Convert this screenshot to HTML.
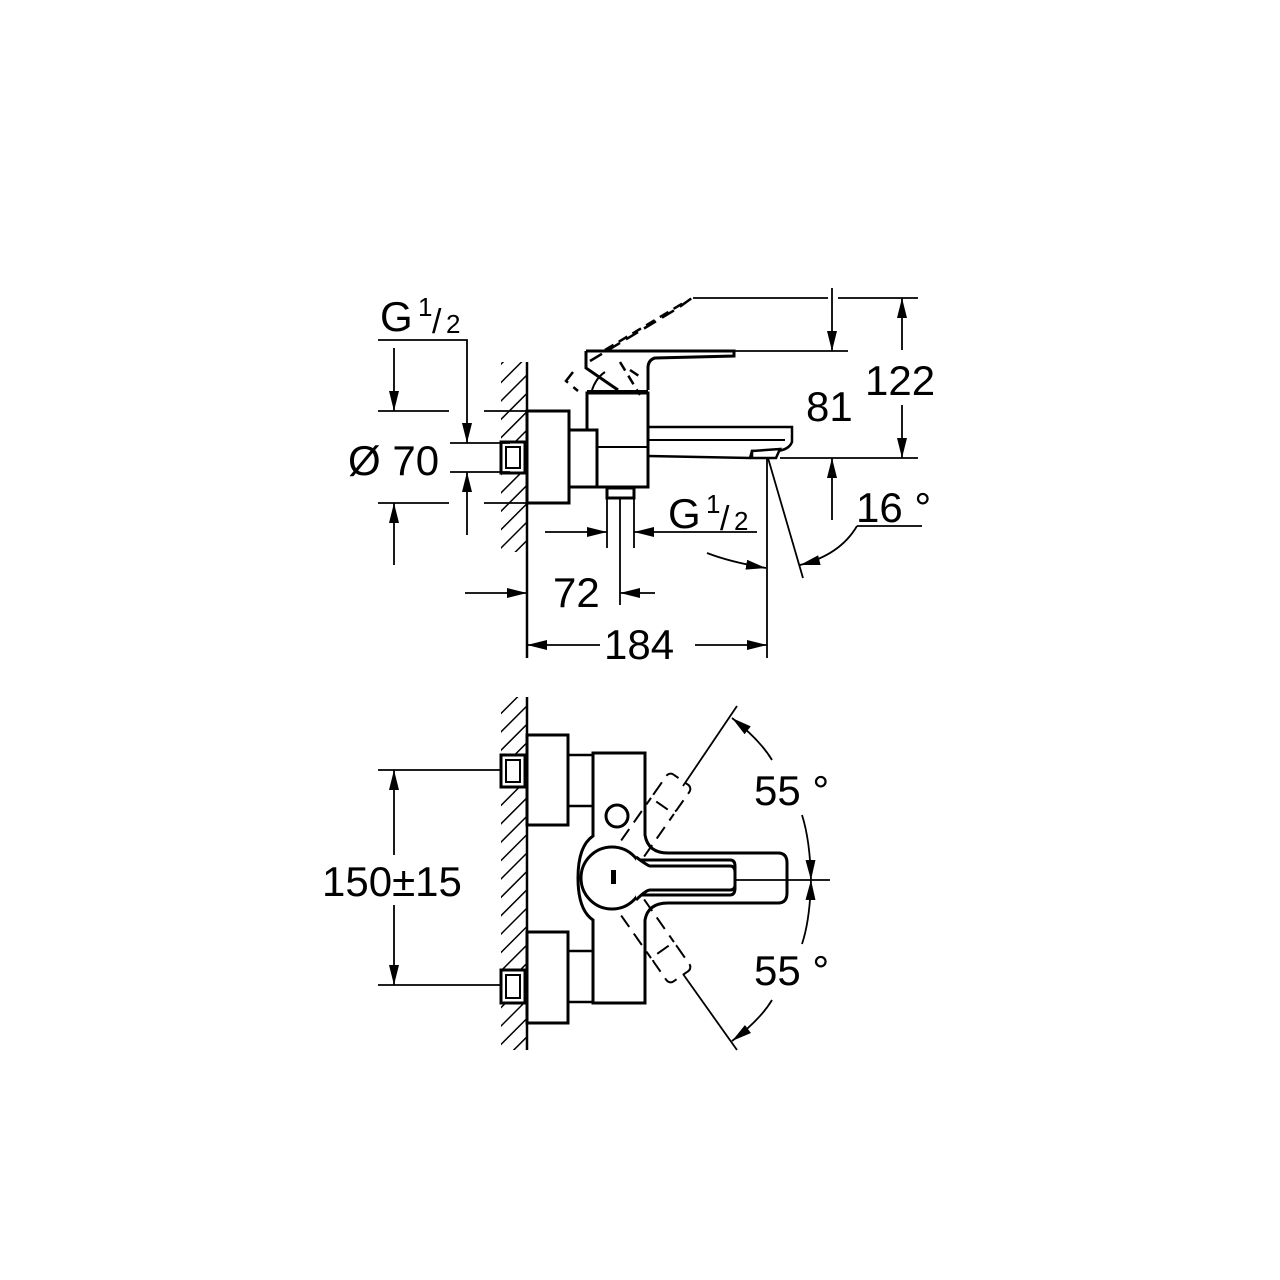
<!DOCTYPE html>
<html><head><meta charset="utf-8"><style>
html,body{margin:0;padding:0;background:#fff;}
svg{display:block}
text{font-family:"Liberation Sans",sans-serif;fill:#000}
</style></head><body>
<svg width="1280" height="1280" viewBox="0 0 1280 1280" xmlns="http://www.w3.org/2000/svg">
<defs>
<pattern id="h" width="13" height="13" patternUnits="userSpaceOnUse" patternTransform="rotate(45)">
<line x1="0" y1="0" x2="0" y2="13" stroke="#000" stroke-width="3"/>
</pattern>
<marker id="a" viewBox="0 0 20 10" refX="20" refY="5" markerWidth="20" markerHeight="10" markerUnits="userSpaceOnUse" orient="auto">
<path d="M0,0 L20,5 L0,10 Z" fill="#000"/>
</marker>
</defs>
<g stroke="#000" fill="none" stroke-width="1.8">
<!-- TOP VIEW -->
<rect x="501" y="362" width="25" height="190" fill="url(#h)" stroke="none"/>
<line x1="527" y1="362" x2="527" y2="658" stroke-width="2.5"/>
<rect x="527" y="411" width="42" height="92" stroke-width="3" fill="#fff"/>
<rect x="501" y="442" width="24" height="31" stroke-width="3" fill="#fff"/>
<rect x="506" y="447" width="14" height="21" stroke-width="2"/>
<rect x="587" y="393" width="61" height="94" stroke-width="3" fill="#fff"/>
<rect x="569" y="430" width="28" height="57" stroke-width="3" fill="#fff"/>
<line x1="597" y1="447" x2="648" y2="447" stroke-width="2"/>
<rect x="587" y="390" width="61" height="4" fill="#000" stroke="none"/>
<rect x="607" y="488" width="27" height="10" stroke-width="3"/>
<line x1="607" y1="498" x2="607" y2="548"/>
<line x1="634" y1="498" x2="634" y2="548"/>
<line x1="620" y1="498" x2="620" y2="605"/>
<!-- lever -->
<path d="M586,351 H734 V356 L655,358 Q648,360 648,368 V390 M586,351 V368 L618,390" stroke-width="3"/>
<path d="M592,390 Q596,378 605,372" stroke-width="2"/>
<!-- spout -->
<path d="M648,427 H792 V442 Q788,452 770,451 L752,451 L750,458 L648,456" stroke-width="2.5"/>
<path d="M648,440 H785" stroke-width="2"/>
<path d="M752,451 L780,449 L776,458 L752,458 Z" stroke-width="2.5" fill="#fff"/>
<!-- dashed raised lever -->
<path d="M573,372 L566,381 L578,391 M590,361 L678,308 L692,298" stroke-dasharray="14,7" stroke-width="2.5"/>
<path d="M605,350 L685,302 M620,362 L640,395 M630,370 L642,378" stroke-dasharray="10,6" stroke-width="2.5"/>
<!-- dimension lines top -->
<line x1="693" y1="298" x2="828" y2="298"/>
<line x1="838" y1="298" x2="918" y2="298"/>
<line x1="734" y1="351" x2="848" y2="351"/>
<line x1="780" y1="458" x2="918" y2="458"/>
<line x1="832" y1="288" x2="832" y2="351" marker-end="url(#a)"/>
<line x1="832" y1="520" x2="832" y2="458" marker-end="url(#a)"/>
<line x1="902" y1="350" x2="902" y2="298" marker-end="url(#a)"/>
<line x1="902" y1="405" x2="902" y2="458" marker-end="url(#a)"/>
<!-- 16 deg -->
<line x1="767" y1="458" x2="767" y2="658"/>
<line x1="768" y1="458" x2="803" y2="578"/>
<line x1="857" y1="526" x2="922" y2="526"/>
<path d="M857,526 Q840,555 800,565" marker-end="url(#a)"/>
<path d="M707,553 Q730,562 766,568" marker-end="url(#a)"/>
<!-- left dims -->
<path d="M378,340 H467 V443" marker-end="url(#a)"/>
<line x1="467" y1="535" x2="467" y2="472" marker-end="url(#a)"/>
<line x1="378" y1="411" x2="449" y2="411"/>
<line x1="484" y1="411" x2="527" y2="411"/>
<line x1="378" y1="503" x2="449" y2="503"/>
<line x1="484" y1="503" x2="527" y2="503"/>
<line x1="450" y1="443" x2="510" y2="443"/>
<line x1="450" y1="472" x2="510" y2="472"/>
<line x1="394" y1="348" x2="394" y2="411" marker-end="url(#a)"/>
<line x1="394" y1="565" x2="394" y2="503" marker-end="url(#a)"/>
<!-- G1/2 bottom -->
<line x1="545" y1="532" x2="607" y2="532" marker-end="url(#a)"/>
<line x1="757" y1="532" x2="634" y2="532" marker-end="url(#a)"/>
<!-- 72 -->
<line x1="465" y1="593" x2="527" y2="593" marker-end="url(#a)"/>
<line x1="655" y1="593" x2="620" y2="593" marker-end="url(#a)"/>
<!-- 184 -->
<line x1="600" y1="645" x2="527" y2="645" marker-end="url(#a)"/>
<line x1="695" y1="645" x2="767" y2="645" marker-end="url(#a)"/>

<!-- BOTTOM VIEW -->
<rect x="501" y="697" width="25" height="353" fill="url(#h)" stroke="none"/>
<line x1="527" y1="697" x2="527" y2="1050" stroke-width="2.5"/>
<rect x="527" y="735" width="41" height="90" stroke-width="3" fill="#fff"/>
<rect x="527" y="932" width="41" height="91" stroke-width="3" fill="#fff"/>
<rect x="568" y="755" width="25" height="51" stroke-width="2.5"/>
<rect x="568" y="951" width="25" height="51" stroke-width="2.5"/>
<rect x="501" y="755" width="24" height="32" stroke-width="3" fill="#fff"/>
<rect x="501" y="970" width="24" height="33" stroke-width="3" fill="#fff"/>
<rect x="506" y="760" width="14" height="22" stroke-width="2"/>
<rect x="506" y="975" width="14" height="23" stroke-width="2"/>
<path d="M593,753 H645 V835 Q648,853 668,853 H778 Q787,853 787,863 V893 Q787,903 778,903 H668 Q648,903 645,920 V1003 H593 V920 Q578,910 578,878 Q578,846 593,836 Z" stroke-width="3" fill="#fff"/>
<circle cx="617" cy="816" r="11" stroke-width="3"/>
<!-- dashed levers -->
<g transform="rotate(-55 612 878)" stroke-dasharray="14,8" stroke-width="2">
<path d="M648,864 H700 M648,892 H700"/>
<rect x="700" y="864" width="32" height="28" rx="5"/>
</g>
<g transform="rotate(55 612 878)" stroke-dasharray="14,8" stroke-width="2">
<path d="M648,864 H700 M648,892 H700"/>
<rect x="700" y="864" width="32" height="28" rx="5"/>
</g>
<path d="M640,860 H730 Q735,860 735,866 V888 Q735,895 730,895 H640" stroke-width="3" fill="#fff"/>
<circle cx="612" cy="878" r="31" stroke-width="3" fill="#fff"/>
<path d="M636,857 Q648,866 650,866 H730 Q735,866 735,872 V885 Q735,890 730,890 H650 Q646,890 636,900" stroke-width="3" fill="#fff"/>
<rect x="611" y="870" width="5" height="14" fill="#000" stroke="none"/>
<line x1="735" y1="880" x2="830" y2="880"/>
<line x1="683" y1="786" x2="737" y2="706"/>
<line x1="683" y1="974" x2="737" y2="1050"/>
<path d="M772,760 Q760,740 732,718" marker-end="url(#a)"/>
<path d="M802,815 Q810,840 811,880" marker-end="url(#a)"/>
<path d="M802,944 Q810,920 811,880" marker-end="url(#a)"/>
<path d="M772,1000 Q760,1020 732,1041" marker-end="url(#a)"/>
<!-- 150 -->
<line x1="378" y1="770" x2="500" y2="770"/>
<line x1="378" y1="985" x2="500" y2="985"/>
<line x1="394" y1="855" x2="394" y2="770" marker-end="url(#a)"/>
<line x1="394" y1="905" x2="394" y2="985" marker-end="url(#a)"/>
</g>
<g font-size="42">
<text x="380" y="331">G</text><text x="418" y="316" font-size="26">1</text><text x="432" y="333" font-size="34">/</text><text x="446" y="333" font-size="26">2</text>
<text x="348" y="475">Ø 70</text>
<text x="668" y="528">G</text><text x="706" y="513" font-size="26">1</text><text x="720" y="530" font-size="34">/</text><text x="734" y="530" font-size="26">2</text>
<text x="806" y="421">81</text>
<text x="865" y="395">122</text>
<text x="856" y="522">16 °</text>
<text x="553" y="607">72</text>
<text x="604" y="659">184</text>
<text x="754" y="805">55 °</text>
<text x="754" y="985">55 °</text>
<text x="322" y="896">150±15</text>
</g>
</svg>
</body></html>
